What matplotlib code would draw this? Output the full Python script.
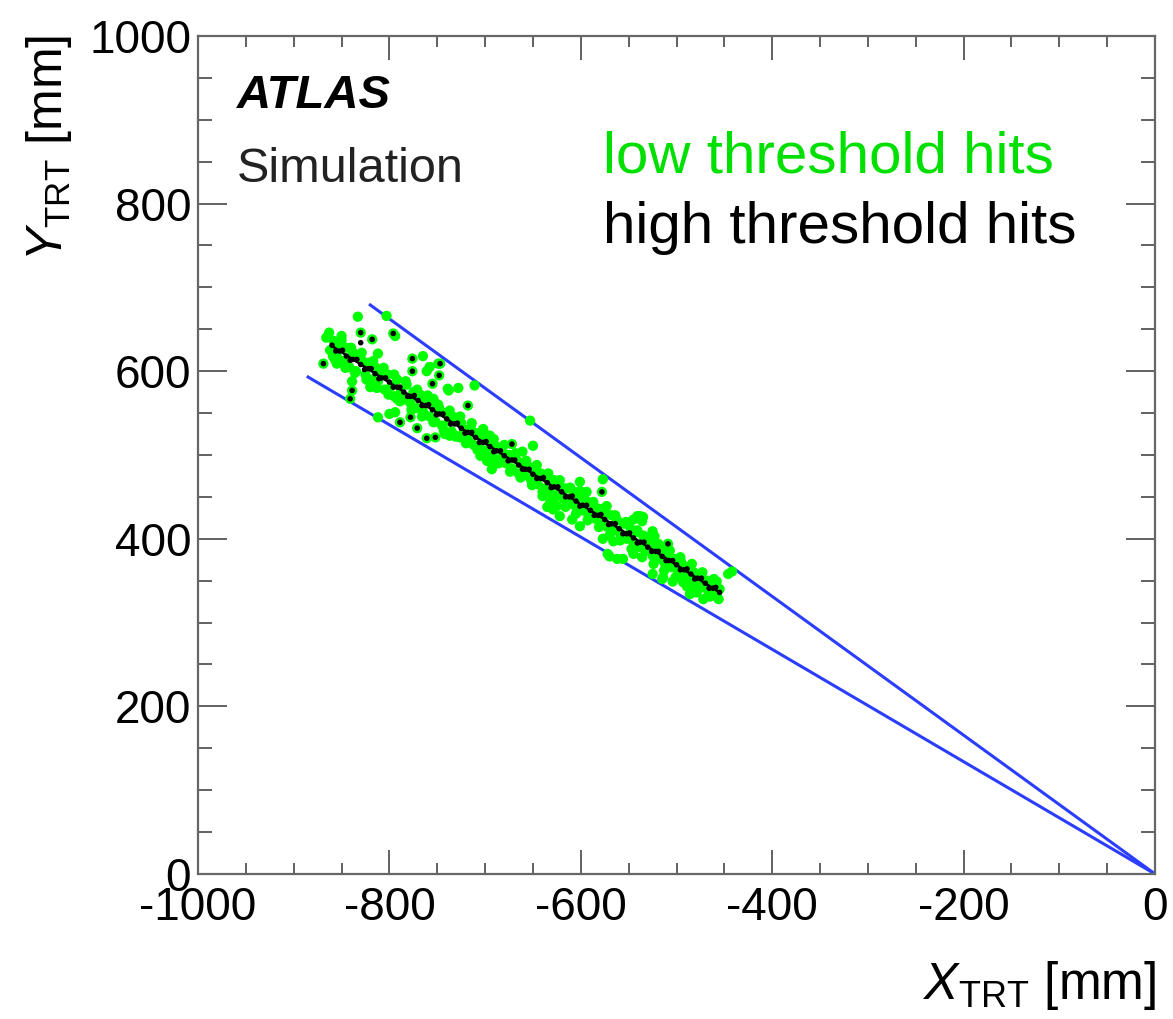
import matplotlib
matplotlib.use('Agg')
import matplotlib.pyplot as plt
from matplotlib.ticker import MultipleLocator

plt.rcParams['font.family'] = ['Liberation Sans', 'DejaVu Sans']
plt.rcParams['mathtext.fontset'] = 'custom'
plt.rcParams['mathtext.rm'] = 'Liberation Sans'
plt.rcParams['mathtext.it'] = 'Liberation Sans:italic'
plt.rcParams['axes.unicode_minus'] = False

# low threshold hits (green) - dense band along the track + scattered hits
low_x = [-866, -862, -858, -855, -852, -848, -845, -842, -838, -835, -832, -828, -825, -822, -818, -815,
         -812, -808, -805, -802, -798, -795, -792, -788, -785, -782, -778, -775, -772, -768, -765, -762,
         -758, -755, -752, -748, -745, -742, -738, -735, -732, -728, -725, -722, -718, -715, -712, -708,
         -705, -702, -698, -695, -692, -688, -685, -682, -678, -675, -672, -668, -665, -662, -658, -655,
         -652, -648, -645, -642, -638, -635, -632, -628, -625, -622, -618, -615, -612, -608, -605, -602,
         -598, -595, -592, -588, -585, -582, -578, -575, -572, -568, -565, -562, -558, -555, -552, -548,
         -545, -542, -538, -535, -532, -528, -525, -522, -518, -515, -512, -508, -505, -502, -498, -495,
         -492, -488, -485, -482, -478, -475, -472, -468, -465, -462, -458, -455,
         -863, -857, -850, -846, -840, -836, -829, -824, -817, -813, -806, -801, -795, -789, -783, -777,
         -771, -766, -760, -754, -749, -743, -737, -731, -726, -720, -714, -708, -703, -697, -691, -686,
         -680, -674, -668, -663, -657, -651, -646, -640, -634, -628, -622, -616, -611, -605, -599, -593,
         -587, -581, -576, -570, -564, -559, -553, -547, -541, -536, -530, -524, -519, -513, -507, -501,
         -496, -490, -484, -478, -473, -467, -461, -456,
         -833, -830, -818, -850, -869, -839, -839, -820, -803, -796, -812, -792, -859, -855, -794, -776,
         -776, -765, -761, -747, -748, -739, -728, -718, -711, -800, -789, -778, -812, -771, -761, -752,
         -737, -726, -841, -702, -695, -705, -695, -684, -758, -749, -755, -738, -754, -794, -742, -731,
         -716, -653, -650, -672, -661, -698, -693, -703, -697, -635, -625, -601, -577, -578, -573, -541,
         -535, -525, -509, -446, -442, -458, -629, -622, -572, -562, -525, -515, -504, -489, -479, -465,
         -702, -692, -640, -632, -601, -594, -538, -545, -536, -570, -556, -545, -577, -566, -609, -601,
         -523, -514, -486, -472, -493, -481]
low_y = [640, 625, 636, 618, 630, 612, 628, 605, 622, 600, 618, 612, 596, 610, 590, 605,
         588, 600, 578, 596, 582, 570, 590, 575, 566, 584, 562, 575, 556, 572, 552, 566,
         546, 562, 540, 556, 535, 550, 540, 528, 545, 522, 538, 530, 518, 532, 512, 526,
         508, 520, 505, 515, 498, 510, 492, 504, 490, 500, 484, 496, 478, 490, 476, 486,
         470, 482, 465, 478, 460, 474, 455, 470, 452, 464, 448, 460, 442, 456, 438, 450,
         434, 446, 428, 442, 424, 436, 420, 432, 414, 428, 410, 422, 404, 418, 400, 412,
         396, 408, 390, 404, 386, 398, 380, 392, 376, 388, 370, 382, 366, 376, 360, 372,
         356, 366, 350, 360, 346, 356, 342, 350, 338, 346, 334, 340,
         646, 614, 637, 604, 628, 598, 622, 590, 612, 580, 604, 572, 596, 564, 588, 554,
         578, 546, 571, 539, 560, 529, 553, 522, 546, 514, 538, 506, 528, 498, 519, 490,
         512, 480, 502, 473, 493, 464, 488, 456, 478, 448, 470, 438, 461, 430, 454, 422,
         444, 414, 436, 404, 428, 398, 420, 388, 410, 378, 402, 370, 394, 362, 386, 354,
         378, 346, 370, 340, 360, 332, 352, 328,
         665, 646, 638, 642, 609, 588, 577, 581, 666, 645, 621, 567, 618, 609, 642, 615,
         600, 618, 600, 609, 595, 579, 580, 559, 583, 549, 539, 545, 545, 532, 520, 521,
         523, 521, 567, 531, 523, 499, 492, 495, 605, 609, 585, 577, 567, 551, 525, 523,
         529, 541, 511, 513, 504, 493, 483, 528, 523, 438, 439, 468, 471, 456, 439, 427,
         426, 409, 394, 358, 361, 349, 435, 427, 382, 376, 358, 352, 349, 343, 336, 331,
         504, 495, 451, 444, 457, 456, 427, 423, 421, 379, 376, 382, 400, 397, 423, 415,
         403, 354, 334, 328, 348, 343]

# high threshold hits (black)
high_x = [-860, -852, -845, -838, -830, -822, -815, -808, -800, -792, -785, -778, -770, -762, -755, -748,
          -740, -732, -725, -718, -710, -702, -695, -688, -680, -672, -665, -658, -650, -642, -635, -628,
          -620, -612, -605, -598, -590, -582, -575, -568, -560, -552, -545, -538, -530, -522, -515, -508,
          -500, -492, -485, -478, -470, -462, -455,
          -856, -849, -841, -834, -826, -819, -811, -804, -796, -789, -781, -774, -766, -759, -751, -744,
          -736, -729, -721, -714, -706, -699, -691, -684, -676, -669, -661, -654, -646, -639, -631, -624,
          -616, -609, -601, -594, -586, -579, -571, -564, -556, -549, -541, -534, -526, -519, -511, -504,
          -496, -489, -481, -474, -466, -459,
          -830, -818, -869, -839, -796, -776, -776, -747, -748, -718, -789, -778, -771, -761, -752, -841,
          -755, -672, -578, -509, -830]
high_y = [631, 624, 618, 614, 608, 603, 597, 592, 587, 581, 575, 570, 565, 559, 554, 549,
          543, 537, 532, 527, 521, 515, 510, 505, 499, 494, 488, 483, 477, 472, 467, 462,
          456, 450, 445, 440, 434, 428, 423, 418, 412, 406, 401, 396, 390, 385, 379, 374,
          369, 363, 358, 353, 347, 341, 336,
          624, 625, 613, 614, 602, 603, 591, 592, 581, 581, 570, 571, 559, 560, 548, 549,
          537, 538, 526, 527, 515, 516, 504, 505, 493, 494, 483, 483, 472, 473, 461, 462,
          450, 451, 439, 440, 428, 429, 417, 418, 406, 407, 395, 396, 385, 385, 374, 374,
          363, 364, 352, 353, 341, 342,
          646, 638, 609, 577, 645, 615, 600, 609, 595, 559, 539, 545, 532, 520, 521, 567,
          585, 513, 456, 394, 634]

# fitted track and road boundaries
track_x = [-860, -455]
track_y = [630, 336]
road_lo_x = [-885, 0]
road_lo_y = [593, 0]
road_hi_x = [-820, 0]
road_hi_y = [679, 0]

fig = plt.figure(figsize=(11.73, 10.19), dpi=100)
ax = fig.add_axes([0.1688, 0.1423, 0.8159, 0.8224])

ax.plot(road_lo_x, road_lo_y, color='#2b3dff', lw=2.2)
ax.plot(road_hi_x, road_hi_y, color='#2b3dff', lw=2.2)
ax.scatter(low_x, low_y, s=55, color='#00ff00', edgecolors='none', zorder=3)
ax.scatter(high_x, high_y, s=16, color='black', edgecolors='none', zorder=4)
ax.plot(track_x, track_y, color='black', lw=1.8, zorder=5)

ax.set_xlim(-1000, 0)
ax.set_ylim(0, 1000)
ax.xaxis.set_major_locator(MultipleLocator(200))
ax.xaxis.set_minor_locator(MultipleLocator(50))
ax.yaxis.set_major_locator(MultipleLocator(200))
ax.yaxis.set_minor_locator(MultipleLocator(50))
ax.tick_params(which='both', direction='in', top=True, right=True, color='#555555', width=1.3)
ax.tick_params(axis='x', which='major', length=17, pad=9, labelsize=33)
ax.tick_params(axis='x', which='minor', length=8)
ax.tick_params(axis='y', which='major', length=21, pad=5, labelsize=33)
ax.tick_params(axis='y', which='minor', length=10)
for sp in ax.spines.values():
    sp.set_color('#666666'); sp.set_linewidth(1.6)

ax.text(0.041, 0.914, 'ATLAS', transform=ax.transAxes, fontsize=34, fontweight='bold', fontstyle='italic')
ax.text(0.041, 0.826, 'Simulation', transform=ax.transAxes, fontsize=35, color='#222222')
ax.text(0.423, 0.8365, 'low threshold hits', transform=ax.transAxes, fontsize=42, color='#00e000')
ax.text(0.423, 0.753, 'high threshold hits', transform=ax.transAxes, fontsize=42, color='black')

fig.text(0.986, 0.02, r'$X_{\rm TRT}$ [mm]', ha='right', va='baseline', fontsize=37)
fig.text(0.053, 0.966, r'$Y_{\rm TRT}$ [mm]', ha='right', va='baseline', rotation=90,
         rotation_mode='anchor', fontsize=36)

fig.savefig('out.png', dpi=100)
